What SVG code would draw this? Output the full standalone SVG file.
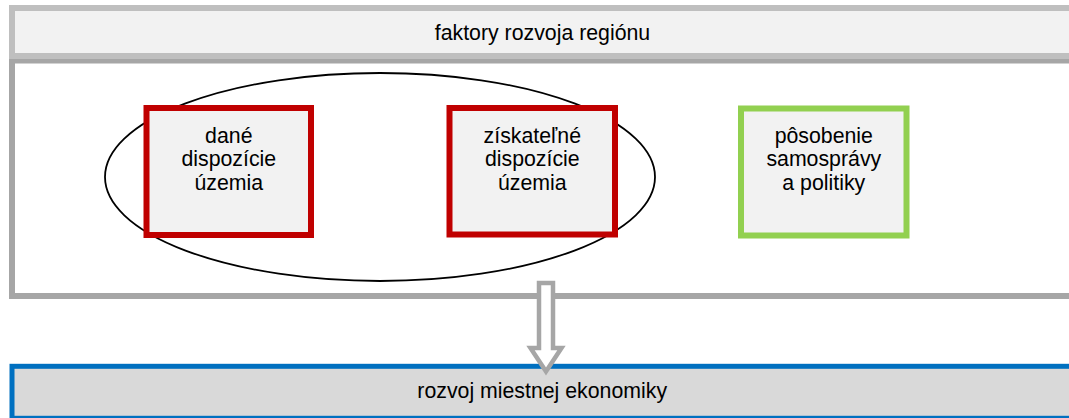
<svg xmlns="http://www.w3.org/2000/svg" width="1069" height="418" viewBox="0 0 1069 418">
<style>
text{font-family:"Liberation Sans",Arial,sans-serif;font-size:21.3px;fill:#000;text-anchor:middle}
.red{fill:#f2f2f2;stroke:#c00000;stroke-width:6}
.green{fill:#f2f2f2;stroke:#92d050;stroke-width:6}
</style>
<rect width="1069" height="418" fill="#ffffff"/>
<g id="panel">
<rect x="12" y="60.5" width="1070" height="235.5" fill="#ffffff" stroke="#a6a6a6" stroke-width="6"/>
</g>
<g id="header">
<rect x="12" y="8" width="1064" height="48" fill="#f2f2f2" stroke="#bfbfbf" stroke-width="6"/>
<text x="542.5" y="39.5">faktory rozvoja regiónu</text>
</g>
<g id="ellipse-group">
<ellipse cx="380" cy="177" rx="275" ry="104" fill="none" stroke="#000" stroke-width="1.8"/>
</g>
<g id="node-dane">
<rect class="red" x="146.5" y="108" width="164.5" height="127"/>
<text x="228.8" y="142.5">dané</text>
<text x="228.8" y="166">dispozície</text>
<text x="228.8" y="189.5">územia</text>
</g>
<g id="node-ziskatelne">
<rect class="red" x="449.5" y="108" width="165.5" height="126.5"/>
<text x="532.3" y="142.5">získateľné</text>
<text x="532.3" y="166">dispozície</text>
<text x="532.3" y="189.5">územia</text>
</g>
<g id="node-posobenie">
<rect class="green" x="741" y="108.5" width="165.5" height="127"/>
<text x="823.8" y="142.5">pôsobenie</text>
<text x="823.8" y="166">samosprávy</text>
<text x="823.8" y="189.5">a politiky</text>
</g>
<g id="node-rozvoj">
<rect x="12" y="366.3" width="1061" height="52" fill="#d9d9d9" stroke="#0070c0" stroke-width="5"/>
<text x="542.2" y="398">rozvoj miestnej ekonomiky</text>
</g>
<g id="connectors">
<polygon points="539,283 553,283 553,348 561.5,348 546,371.5 530.5,348 539,348" fill="#ffffff" stroke="#a6a6a6" stroke-width="4.5"/>
</g>
</svg>
